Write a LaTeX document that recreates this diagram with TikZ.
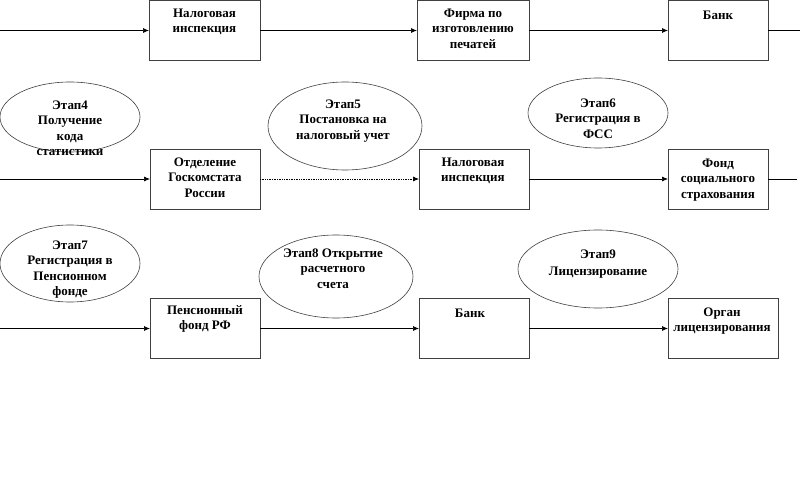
\documentclass[tikz,border=0pt]{standalone}
\usepackage{fontspec}
\setmainfont{Liberation Serif}
\usetikzlibrary{arrows.meta,shapes.geometric}
\begin{document}
\begin{tikzpicture}[x=1pt,y=-1pt,
  boxst/.style={draw=black!75, line width=0.7pt, rectangle, inner sep=0pt, outer sep=0pt, anchor=north west},
  ell/.style={draw=black!75, line width=0.6pt, ellipse, inner sep=0pt, outer sep=0pt},
  txt/.style={anchor=north, inner sep=0pt, align=center, font=\bfseries\fontsize{13}{15.5}\selectfont},
  con/.style={line width=0.7pt, -{Latex[length=6pt,width=5pt]}},
  plain/.style={line width=0.7pt}]
\useasboundingbox (0,0) rectangle (800,478);
% boxes
\node[boxst, minimum width=111pt, minimum height=60pt] (b1) at (149,0.5) {};
\node[boxst, minimum width=112pt, minimum height=60pt] (b2) at (417,0.5) {};
\node[boxst, minimum width=100pt, minimum height=60pt] (b3) at (668,0.5) {};
\node[boxst, minimum width=110pt, minimum height=60pt] (b4) at (150,149) {};
\node[boxst, minimum width=110pt, minimum height=60pt] (b5) at (419,149) {};
\node[boxst, minimum width=100pt, minimum height=60pt] (b6) at (668,149) {};
\node[boxst, minimum width=110pt, minimum height=60pt] (b7) at (150,298.5) {};
\node[boxst, minimum width=110pt, minimum height=60pt] (b8) at (419,298.5) {};
\node[boxst, minimum width=110pt, minimum height=60pt] (b9) at (668,298.5) {};
% box texts
\node[txt] (t1) at (204.5,6) {\strut Налоговая\\инспекция};
\node[txt] (t2) at (473,6) {\strut Фирма по\\изготовлению\\печатей};
\node[txt] (t3) at (718,8) {\strut Банк};
\node[txt] (t4) at (205,155) {\strut Отделение\\Госкомстата\\России};
\node[txt] (t5) at (473,155) {\strut Налоговая\\инспекция};
\node[txt] (t6) at (718,156) {\strut Фонд\\социального\\страхования};
\node[txt] (t7) at (205,303) {\strut Пенсионный\\фонд РФ};
\node[txt] (t8) at (470,306) {\strut Банк};
\node[txt] (t9) at (722,305) {\strut Орган\\лицензирования};
% ellipses
\node[ell, minimum width=140pt, minimum height=70pt] (e4) at (70,117) {};
\node[ell, minimum width=154pt, minimum height=88pt] (e5) at (345,126) {};
\node[ell, minimum width=140pt, minimum height=70pt] (e6) at (598,113) {};
\node[ell, minimum width=140pt, minimum height=77pt] (e7) at (70,263.5) {};
\node[ell, minimum width=154pt, minimum height=83pt] (e8) at (336,276.5) {};
\node[ell, minimum width=160pt, minimum height=78pt] (e9) at (598,269) {};
% ellipse texts
\node[txt] (s4) at (70,98) {\strut Этап4\\Получение\\кода\\статистики};
\node[txt] (s5) at (343,97) {\strut Этап5\\Постановка на\\налоговый учет};
\node[txt] (s6) at (598,96) {\strut Этап6\\Регистрация в\\ФСС};
\node[txt] (s7) at (70,238) {\strut Этап7\\Регистрация в\\Пенсионном\\фонде};
\node[txt] (s8) at (333,246) {\strut Этап8 Открытие\\расчетного\\счета};
\node[txt, font=\bfseries\fontsize{13}{17}\selectfont] (s9) at (598,246) {\strut Этап9\\Лицензирование};
% free ends
\coordinate (r1s) at (0,30.5);
\coordinate (r1e) at (800,30.5);
\coordinate (r2s) at (0,179);
\coordinate (r2e) at (797,179);
\coordinate (r3s) at (0,328.5);
% connectors
\draw[con] (r1s) -- (b1.west);
\draw[con] (b1.east) -- (b2.west);
\draw[con] (b2.east) -- (b3.west);
\draw[plain] (b3.east) -- (r1e);
\draw[con] (r2s) -- (b4.west);
\draw[con, densely dotted] (b4.east) -- (b5.west);
\draw[con] (b5.east) -- (b6.west);
\draw[plain] (b6.east) -- (r2e);
\draw[con] (r3s) -- (b7.west);
\draw[con] (b7.east) -- (b8.west);
\draw[con] (b8.east) -- (b9.west);
\end{tikzpicture}
\end{document}
